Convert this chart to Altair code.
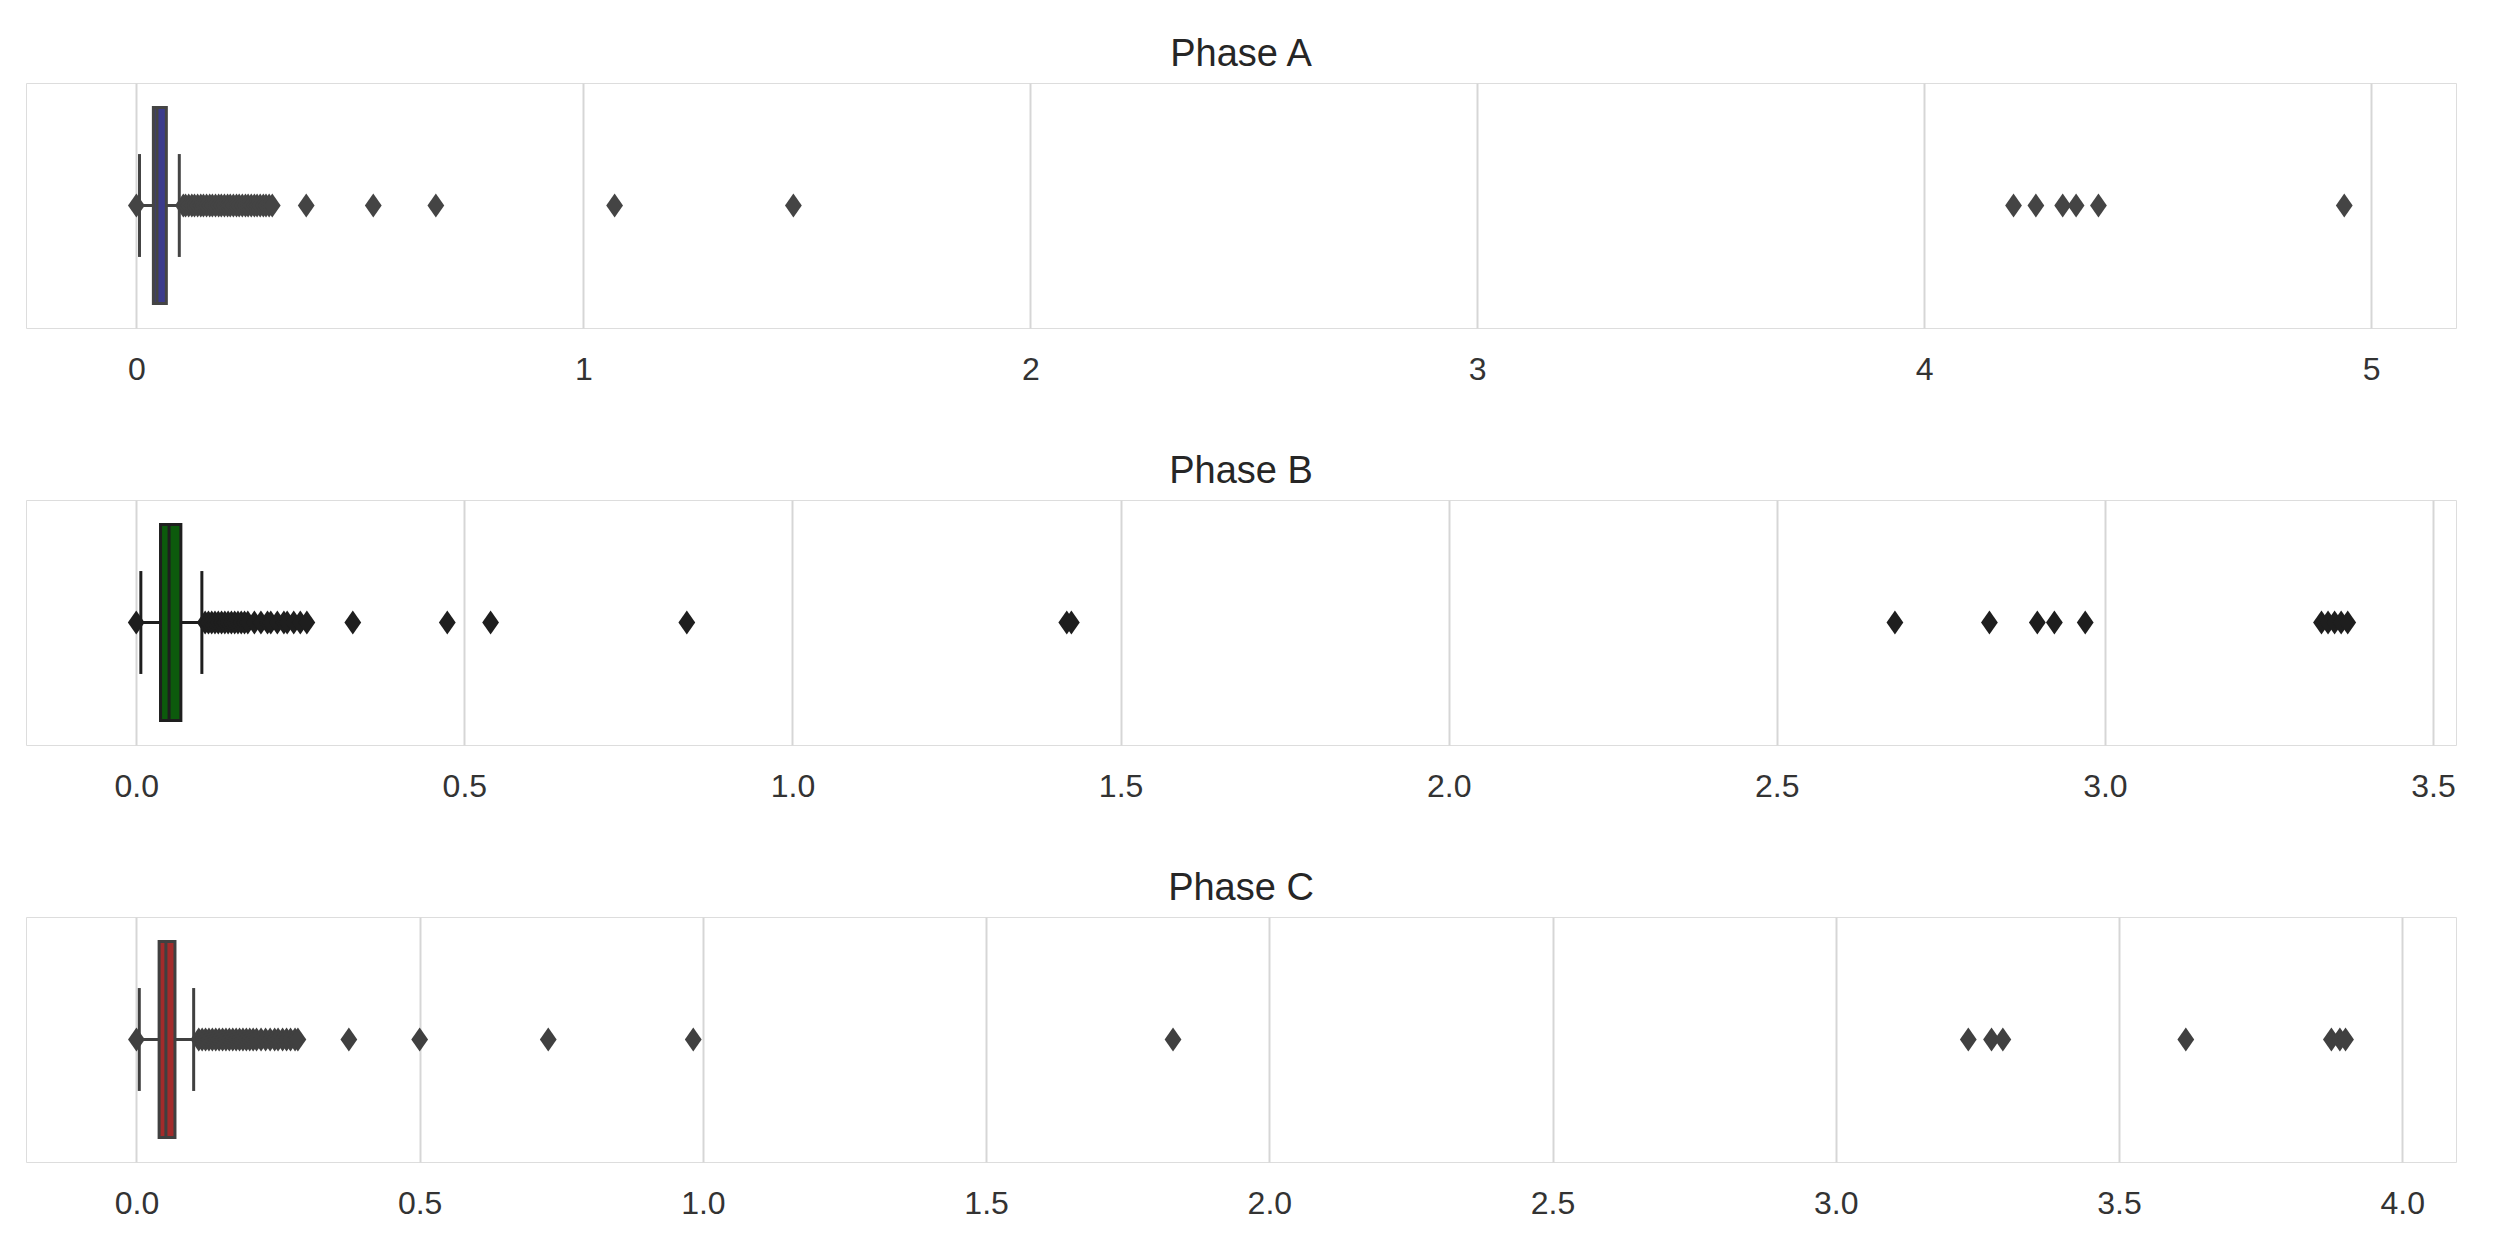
import altair as alt
import pandas as pd

# ---------------- data ----------------
PHASES = ["Phase A", "Phase B", "Phase C"]

# box statistics per phase
Q1 = [0.038, 0.037, 0.040]
MEDIAN = [0.046, 0.050, 0.052]
Q3 = [0.067, 0.068, 0.068]
WHISK_LO = [0.007, 0.007, 0.005]
WHISK_HI = [0.096, 0.100, 0.101]

# outliers (fliers) per phase
OUT_A = [0.0,
         0.105, 0.11, 0.117, 0.124, 0.13, 0.137, 0.144, 0.15, 0.157, 0.164,
         0.17, 0.177, 0.184, 0.19, 0.197, 0.204, 0.21, 0.217, 0.224, 0.23,
         0.237, 0.244, 0.25, 0.257, 0.264, 0.27, 0.277, 0.284, 0.29, 0.297, 0.304,
         0.38, 0.53, 0.67, 1.07, 1.47,
         4.20, 4.25, 4.31, 4.34, 4.39, 4.94]
OUT_B = [0.0,
         0.105, 0.11, 0.115, 0.12, 0.125, 0.13, 0.135, 0.14, 0.145, 0.15,
         0.155, 0.16, 0.165, 0.17, 0.18, 0.19, 0.20, 0.205, 0.215, 0.225,
         0.23, 0.24, 0.25, 0.26,
         0.33, 0.474, 0.54, 0.839, 1.418, 1.425,
         2.68, 2.824, 2.897, 2.923, 2.97,
         3.33, 3.34, 3.35, 3.36, 3.37]
OUT_C = [0.0,
         0.11, 0.116, 0.122, 0.128, 0.134, 0.14, 0.146, 0.152, 0.158, 0.164,
         0.17, 0.176, 0.182, 0.188, 0.194, 0.2, 0.206, 0.212, 0.22, 0.228,
         0.236, 0.244, 0.25, 0.258, 0.265, 0.272, 0.28, 0.285,
         0.375, 0.50, 0.727, 0.983, 1.83,
         3.234, 3.275, 3.295, 3.618, 3.875, 3.89, 3.90]
OUTLIERS = [OUT_A, OUT_B, OUT_C]

# x-axis tick labels
TICKS_A = [0, 1, 2, 3, 4, 5]
TICKS_B = [0.0, 0.5, 1.0, 1.5, 2.0, 2.5, 3.0, 3.5]
TICKS_C = [0.0, 0.5, 1.0, 1.5, 2.0, 2.5, 3.0, 3.5, 4.0]
TICKS = [TICKS_A, TICKS_B, TICKS_C]
FORMATS = ["d", ".1f", ".1f"]

# ---------------- styling ----------------
X_DOMAINS = [[-0.247, 5.19], [-0.168, 3.535], [-0.195, 4.095]]
FILLS = ["#3b3b8c", "#0c5a0c", "#a32b2b"]
EDGES = ["#444444", "#1e1e1e", "#404040"]
FONT = "Liberation Sans"
DIAMOND = "M0,-1L0.7,0L0,1L-0.7,0Z"
W, H = 2430, 245


def panel(i):
    stats = pd.DataFrame({
        "q1": [Q1[i]], "med": [MEDIAN[i]], "q3": [Q3[i]],
        "lo": [WHISK_LO[i]], "hi": [WHISK_HI[i]],
    })
    outs = pd.DataFrame({"v": OUTLIERS[i]})

    xscale = alt.Scale(domain=X_DOMAINS[i], nice=False, zero=False)
    yscale = alt.Scale(domain=[-0.5, 0.5], nice=False, zero=False)
    xaxis = alt.Axis(
        values=TICKS[i], format=FORMATS[i], title=None, grid=True,
        gridColor="#d6d6d6", gridWidth=2, domain=False, ticks=False,
        tickSize=0, labelFontSize=32, labelPadding=26, labelColor="#333333",
        labelFont=FONT, labelFlush=False, labelOverlap=False,
    )

    def X(f):
        return alt.X(f, type="quantitative", scale=xscale, axis=xaxis)

    def Y(v):
        return alt.YDatum(v, type="quantitative", scale=yscale, axis=None)

    base = alt.Chart(stats)
    edge = EDGES[i]

    whisker = base.mark_rule(color=edge, strokeWidth=3).encode(
        x=X("lo"), x2="hi", y=Y(0.0))
    cap_lo = base.mark_rule(color=edge, strokeWidth=3).encode(
        x=X("lo"), y=Y(-0.21), y2=alt.Y2Datum(0.21))
    cap_hi = base.mark_rule(color=edge, strokeWidth=3).encode(
        x=X("hi"), y=Y(-0.21), y2=alt.Y2Datum(0.21))
    box = base.mark_rect(fill=FILLS[i], stroke=edge, strokeWidth=3).encode(
        x=X("q1"), x2="q3", y=Y(-0.4), y2=alt.Y2Datum(0.4))
    median = base.mark_rule(color=edge, strokeWidth=3).encode(
        x=X("med"), y=Y(-0.4), y2=alt.Y2Datum(0.4))
    fliers = alt.Chart(outs).mark_point(
        shape=DIAMOND, filled=True, size=576, color=edge, opacity=1,
        strokeWidth=0,
    ).encode(x=X("v"), y=Y(0.0))

    return alt.layer(whisker, cap_lo, cap_hi, box, median, fliers).properties(
        width=W, height=H,
        title=alt.TitleParams(
            PHASES[i], fontSize=38, font=FONT, fontWeight="normal",
            color="#262626", baseline="alphabetic", offset=-21, anchor="middle",
            frame="group",
        ),
    )


chart = alt.vconcat(
    panel(0), panel(1), panel(2), spacing=172, bounds="flush"
).properties(
    padding={"left": 17, "top": 27, "right": 10, "bottom": 10},
).configure_view(
    stroke="#cccccc", strokeWidth=3
).configure(background="white")

chart.save("out.html", embed_options={"renderer": "svg", "actions": False})
